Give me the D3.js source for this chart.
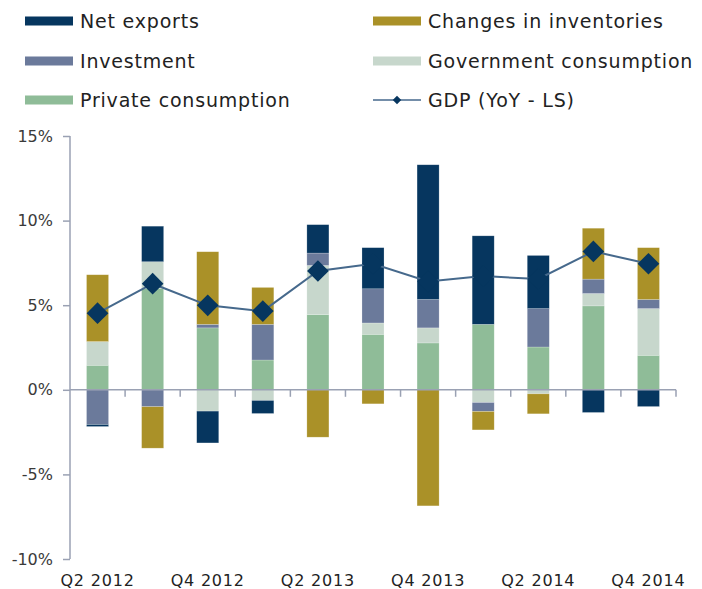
<!DOCTYPE html>
<html><head><meta charset="utf-8">
<script src="https://cdn.jsdelivr.net/npm/d3@7"></script>
<style>
html,body{margin:0;padding:0;background:#fff;}
svg{display:block;}
text{font-family:"DejaVu Sans",sans-serif;}
</style></head>
<body><div id="chart"></div>
<script>
const categories = ["Q2 2012","Q3 2012","Q4 2012","Q1 2013","Q2 2013","Q3 2013","Q4 2013","Q1 2014","Q2 2014","Q3 2014","Q4 2014"];
const privateConsumption = [1.45, 6.0, 3.66, 1.76, 4.45, 3.28, 2.77, 3.87, 2.53, 4.96, 2.04];
const governmentConsumption = [1.4, 1.57, -1.26, -0.63, 2.9, 0.67, 0.89, -0.75, -0.24, 0.73, 2.76];
const investment = [-2.05, -1.0, 0.21, 2.11, 0.73, 2.02, 1.68, -0.53, 2.27, 0.85, 0.54];
const inventories = [3.95, -2.45, 4.29, 2.18, -2.8, -0.83, -6.86, -1.09, -1.18, 3.01, 3.06];
const netExports = [-0.12, 2.1, -1.88, -0.77, 1.68, 2.43, 7.96, 5.23, 3.14, -1.34, -0.99];
const gdp = [4.53, 6.27, 4.99, 4.65, 7.02, 7.45, 6.4, 6.72, 6.55, 8.18, 7.45];
const xTickLabels = ["Q2 2012","Q4 2012","Q2 2013","Q4 2013","Q2 2014","Q4 2014"];
const yTicks = [-10, -5, 0, 5, 10, 15];

const seriesKeys = ["private","government","investment","inventories","netExports"];
const seriesNames = {netExports:"Net exports", inventories:"Changes in inventories", investment:"Investment", government:"Government consumption", private:"Private consumption"};
const colors = {netExports:"#06365f", inventories:"#aa9128", investment:"#6b7a9b", government:"#c7d7cc", private:"#8fbc98"};

const rows = categories.map((c,i)=>({cat:c, private:privateConsumption[i], government:governmentConsumption[i], investment:investment[i], inventories:inventories[i], netExports:netExports[i]}));

const W=702, H=589;
const svg = d3.select("#chart").append("svg").attr("width",W).attr("height",H);

const x = d3.scaleBand().domain(categories).range([70,676]).paddingInner(0.6).paddingOuter(0.3);
const y = d3.scaleLinear().domain([-10,15]).range([559,136]);

const stacked = d3.stack().keys(seriesKeys).offset(d3.stackOffsetDiverging)(rows);

svg.append("g").selectAll("g").data(stacked).join("g")
  .attr("fill", d=>colors[d.key])
  .selectAll("rect").data(d=>d).join("rect")
  .attr("x", d=>x(d.data.cat))
  .attr("width", x.bandwidth())
  .attr("y", d=>y(Math.max(d[0],d[1])))
  .attr("height", d=>Math.abs(y(d[0])-y(d[1])))
  .attr("stroke","#ffffff").attr("stroke-opacity",0.35).attr("stroke-width",0.6);

// axes
const axisColor = "#9aa1b3";
const yAxis = svg.append("g").attr("transform","translate(70,0)")
  .call(d3.axisLeft(y).tickValues(yTicks).tickFormat(d=>d+"%").tickSize(7).tickPadding(10));
yAxis.select(".domain").attr("stroke",axisColor).attr("stroke-width",1.5).attr("d","M0,136V559");
yAxis.selectAll(".tick line").attr("stroke",axisColor).attr("stroke-width",1.5);
yAxis.selectAll(".tick text").attr("fill","#3a3a3a").style("font-size","16px").style("font-family","DejaVu Sans");

const xb = svg.append("g").attr("transform",`translate(0,${y(0)})`);
xb.append("line").attr("x1",70).attr("x2",676).attr("stroke",axisColor).attr("stroke-width",1.5);
const step = x.step();
xb.selectAll("line.tk").data(categories).join("line").attr("class","tk")
  .attr("x1", d=>x(d)+x.bandwidth()/2+step/2).attr("x2", d=>x(d)+x.bandwidth()/2+step/2)
  .attr("y1",0).attr("y2",7).attr("stroke",axisColor).attr("stroke-width",1.5);

svg.append("g").selectAll("text").data(xTickLabels).join("text")
  .attr("x", d=>x(d)+x.bandwidth()/2).attr("y",581)
  .attr("text-anchor","middle").attr("dominant-baseline","middle")
  .attr("fill","#222").style("font-size","16px").style("letter-spacing","0.8px").text(d=>d);

// GDP line
const line = d3.line().x((d,i)=>x(categories[i])+x.bandwidth()/2).y(d=>y(d));
svg.append("path").datum(gdp).attr("d",line).attr("fill","none").attr("stroke","#46698c").attr("stroke-width",2);
const diamond = d3.symbol().type(d3.symbolSquare).size(235);
svg.append("g").selectAll("path").data(gdp).join("path")
  .attr("d", diamond)
  .attr("transform",(d,i)=>`translate(${x(categories[i])+x.bandwidth()/2},${y(d)}) rotate(45)`)
  .attr("fill","#06365f");

// legend
const legendItems = [
  {key:"netExports", col:0, row:0},
  {key:"inventories", col:1, row:0},
  {key:"investment", col:0, row:1},
  {key:"government", col:1, row:1},
  {key:"private", col:0, row:2},
  {key:"gdp", col:1, row:2}
];
const colX = [25, 373], rowY = [21, 61, 100];
const lg = svg.append("g");
legendItems.forEach(it=>{
  const gx = colX[it.col], gy = rowY[it.row];
  if(it.key==="gdp"){
    lg.append("line").attr("x1",gx).attr("x2",gx+48).attr("y1",gy).attr("y2",gy).attr("stroke","#46698c").attr("stroke-width",1.5);
    lg.append("path").attr("d", d3.symbol().type(d3.symbolSquare).size(36)()).attr("transform",`translate(${gx+24},${gy}) rotate(45)`).attr("fill","#06365f");
    lg.append("text").attr("x",gx+55).attr("y",gy+1).attr("dominant-baseline","middle").attr("fill","#222").style("font-size","19px").style("letter-spacing","0.8px").text("GDP (YoY - LS)");
  } else {
    lg.append("rect").attr("x",gx).attr("y",gy-4.5).attr("width",48).attr("height",9).attr("fill",colors[it.key]);
    lg.append("text").attr("x",gx+55).attr("y",gy+1).attr("dominant-baseline","middle").attr("fill","#222").style("font-size","19px").style("letter-spacing","0.8px").text(seriesNames[it.key]);
  }
});
</script></body></html>
